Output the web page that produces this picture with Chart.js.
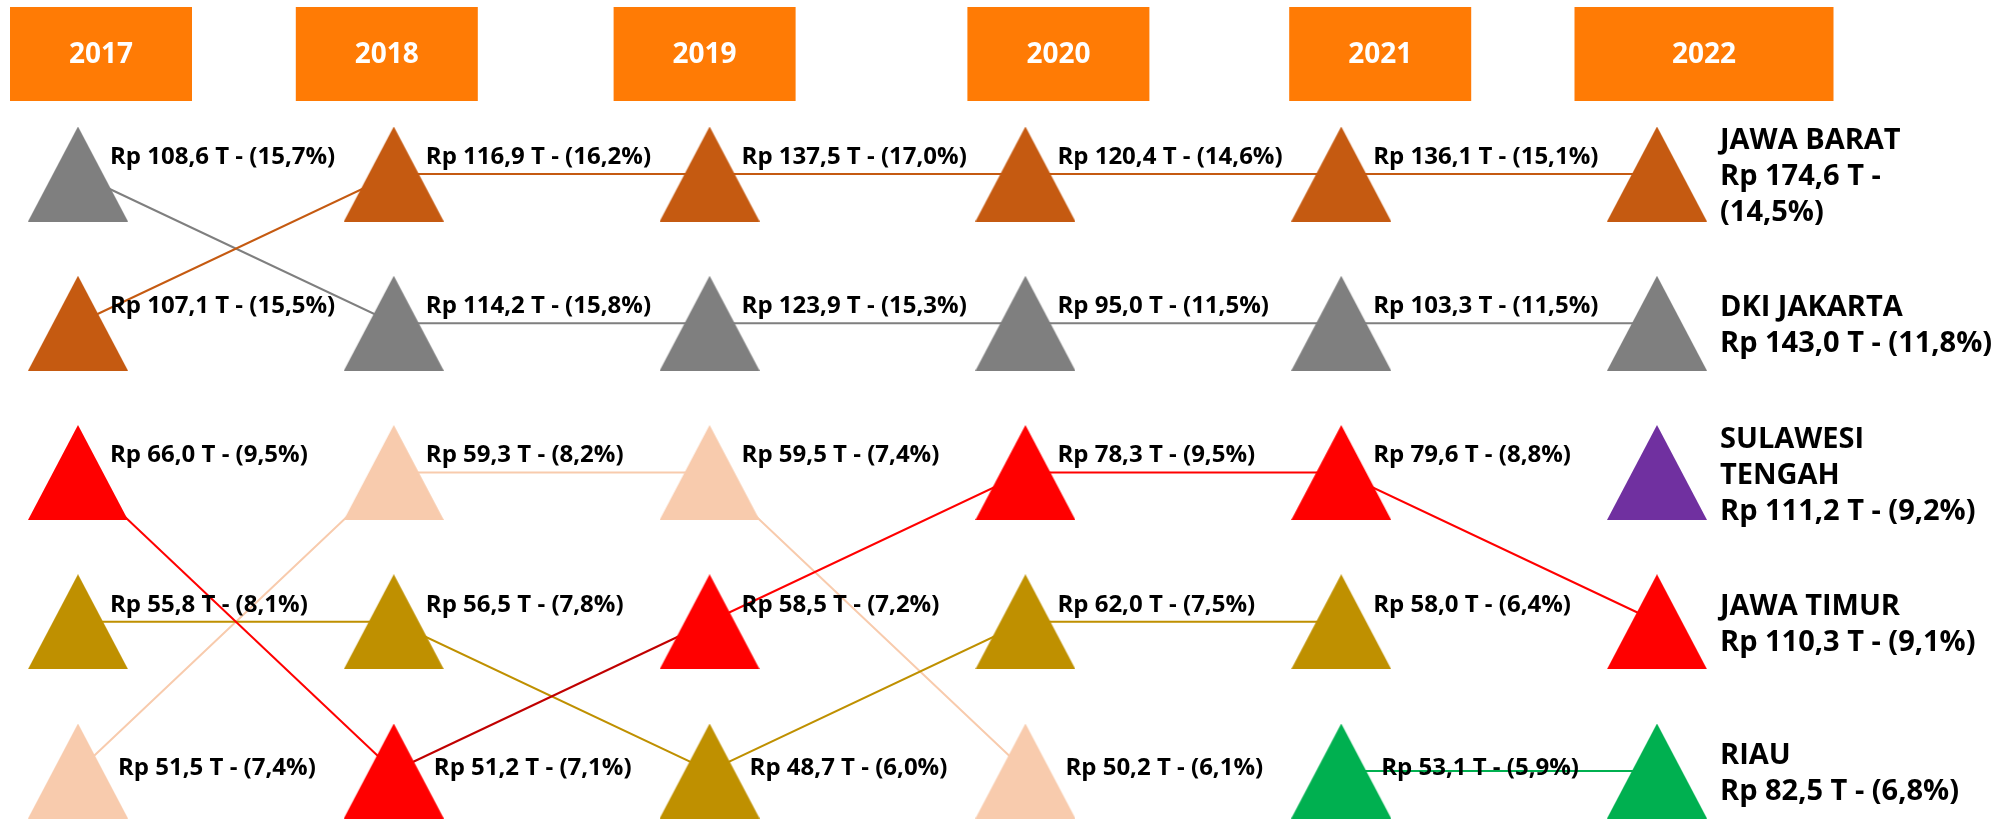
<!DOCTYPE html>
<html>
<head>
<meta charset="utf-8">
<title>Peringkat provinsi 2017-2022</title>
<script src="https://cdn.jsdelivr.net/npm/chart.js@4.4.1/dist/chart.umd.min.js"></script>
<style>
  html, body { margin: 0; padding: 0; background: #fff; }
  canvas { display: block; }
</style>
</head>
<body>
<canvas id="bumpChart" width="2002" height="819"></canvas>
<script>
// Tahun (kolom)
const years = ['2017', '2018', '2019', '2020', '2021', '2022'];

// Peringkat per tahun (1 = teratas), null = tidak masuk 5 besar
const rankJabar   = [2, 1, 1, 1, 1, 1];
const rankDki     = [1, 2, 2, 2, 2, 2];
const rankJatim   = [3, 5, 4, 3, 3, 4];
const rankGold    = [4, 4, 5, 4, 4, null];
const rankPeach   = [5, 3, 3, 5, null, null];
const rankRiau    = [null, null, null, null, 5, 5];
const rankSulteng = [null, null, null, null, null, 3];

// Nilai (Rp triliun)
const valJabar   = [107.1, 116.9, 137.5, 120.4, 136.1, 174.6];
const valDki     = [108.6, 114.2, 123.9, 95.0, 103.3, 143.0];
const valJatim   = [66.0, 51.2, 58.5, 78.3, 79.6, 110.3];
const valGold    = [55.8, 56.5, 48.7, 62.0, 58.0, null];
const valPeach   = [51.5, 59.3, 59.5, 50.2, null, null];
const valRiau    = [null, null, null, null, 53.1, 82.5];
const valSulteng = [null, null, null, null, null, 111.2];

// Porsi (%)
const shareJabar   = [15.5, 16.2, 17.0, 14.6, 15.1, 14.5];
const shareDki     = [15.7, 15.8, 15.3, 11.5, 11.5, 11.8];
const shareJatim   = [9.5, 7.1, 7.2, 9.5, 8.8, 9.1];
const shareGold    = [8.1, 7.8, 6.0, 7.5, 6.4, null];
const sharePeach   = [7.4, 8.2, 7.4, 6.1, null, null];
const shareRiau    = [null, null, null, null, 5.9, 6.8];
const shareSulteng = [null, null, null, null, null, 9.2];

const FONT = '"Open Sans", "Noto Sans", sans-serif';

const provinces = [
  { name: ['JAWA BARAT'], rank: rankJabar, val: valJabar, share: shareJabar, color: '#C55A11', wrap: true },
  { name: ['DKI JAKARTA'], rank: rankDki, val: valDki, share: shareDki, color: '#7F7F7F' },
  { name: ['JAWA TIMUR'], rank: rankJatim, val: valJatim, share: shareJatim, color: '#FF0000' },
  { name: [], rank: rankGold, val: valGold, share: shareGold, color: '#BF9000' },
  { name: [], rank: rankPeach, val: valPeach, share: sharePeach, color: '#F8CBAD' },
  { name: ['RIAU'], rank: rankRiau, val: valRiau, share: shareRiau, color: '#00B050' },
  { name: ['SULAWESI', 'TENGAH'], rank: rankSulteng, val: valSulteng, share: shareSulteng, color: '#7030A0' }
];

function num(v) {
  return v.toFixed(1).replace('.', ',');
}

// segitiga sebagai gambar titik
function triangleImage(color) {
  const c = document.createElement('canvas');
  c.width = 100;
  c.height = 95;
  const g = c.getContext('2d');
  g.fillStyle = color;
  g.beginPath();
  g.moveTo(50, 0);
  g.lineTo(100, 95);
  g.lineTo(0, 95);
  g.closePath();
  g.fill();
  return c;
}

const lineSets = provinces.map((p, i) => ({
  label: 'line' + i,
  data: p.rank,
  borderColor: p.color,
  borderWidth: 2,
  pointRadius: 0,
  spanGaps: false,
  clip: false,
  order: 2,
  segment: i === 2 ? { borderColor: ctx => ctx.p0DataIndex === 1 ? '#C00000' : undefined } : undefined
}));

const markerSets = provinces.map((p, i) => ({
  label: 'marker' + i,
  data: p.rank,
  showLine: false,
  pointStyle: triangleImage(p.color),
  pointRadius: 10,
  clip: false,
  order: 1
}));

// Kotak tahun di atas
const headerPlugin = {
  id: 'headers',
  beforeDraw(chart) {
    const ctx = chart.ctx;
    const x = chart.scales.x;
    const shift = [23, -7, -5, 33, 39, 47];
    ctx.save();
    years.forEach((y, i) => {
      const last = i === years.length - 1;
      const w = last ? 259 : 182;
      const cx = x.getPixelForValue(i) + shift[i];
      const left = cx - w / 2;
      ctx.fillStyle = '#FF7B05';
      ctx.fillRect(left, 7, w, 94);
      ctx.fillStyle = '#FFFFFF';
      ctx.font = '700 28px ' + FONT;
      ctx.textAlign = 'center';
      ctx.textBaseline = 'middle';
      ctx.fillText(y, cx, 55);
    });
    ctx.restore();
  }
};

// Label nilai di samping segitiga
const labelPlugin = {
  id: 'valueLabels',
  afterDatasetsDraw(chart) {
    const ctx = chart.ctx;
    const xs = chart.scales.x, ys = chart.scales.y;
    const lastIdx = years.length - 1;
    ctx.save();
    ctx.fillStyle = '#000';
    ctx.textAlign = 'left';
    provinces.forEach(p => {
      p.rank.forEach((r, j) => {
        if (r == null) return;
        const px = xs.getPixelForValue(j);
        const py = ys.getPixelForValue(r);
        const txt = 'Rp ' + num(p.val[j]) + ' T - (' + num(p.share[j]) + '%)';
        if (j < lastIdx) {
          ctx.font = '700 24px ' + FONT;
          ctx.textBaseline = 'middle';
          const dx = r === 5 ? 40 : 32;
          const dy = r === 5 ? -3 : -17;
          ctx.fillText(txt, px + dx, py + dy);
        } else {
          let lines = p.name.slice();
          if (p.wrap) {
            lines.push('Rp ' + num(p.val[j]) + ' T -', '(' + num(p.share[j]) + '%)');
          } else {
            lines.push(txt);
          }
          ctx.font = '700 29px ' + FONT;
          ctx.textBaseline = 'alphabetic';
          const lh = 36;
          const first = py - (lines.length - 1) * lh / 2 + 11;
          lines.forEach((l, k) => ctx.fillText(l, px + 63, first + k * lh));
        }
      });
    });
    ctx.restore();
  }
};

function draw() {
  new Chart(document.getElementById('bumpChart'), {
    type: 'line',
    data: {
      labels: years,
      datasets: lineSets.concat(markerSets)
    },
    options: {
      responsive: false,
      devicePixelRatio: 1,
      animation: false,
      events: [],
      layout: { padding: { left: 78, right: 345, top: 174, bottom: 48 } },
      scales: {
        x: { type: 'category', offset: false, display: false },
        y: { type: 'linear', min: 1, max: 5, reverse: true, display: false }
      },
      plugins: {
        legend: { display: false },
        tooltip: { enabled: false }
      }
    },
    plugins: [headerPlugin, labelPlugin]
  });
}

if (document.fonts && document.fonts.load) {
  Promise.all([
    document.fonts.load('700 24px "Open Sans"'),
    document.fonts.load('700 29px "Open Sans"')
  ]).then(draw, draw);
} else {
  draw();
}
</script>
</body>
</html>
